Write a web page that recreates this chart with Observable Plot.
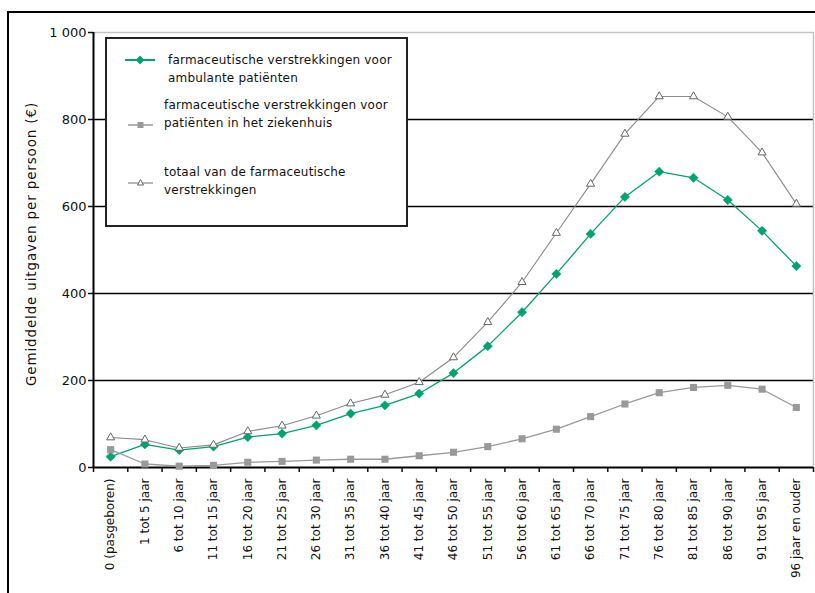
<!DOCTYPE html>
<html>
<head>
<meta charset="utf-8">
<script src="https://cdn.jsdelivr.net/npm/d3@7"></script>
<script src="https://cdn.jsdelivr.net/npm/@observablehq/plot@0.6"></script>
<style>
  html, body { margin: 0; padding: 0; background: #fff; }
  #wrap { position: relative; width: 815px; height: 593px; overflow: hidden; font-family: "DejaVu Sans", Verdana, sans-serif; }
  #frame { position: absolute; left: 7px; top: 11px; width: 900px; height: 700px; border-left: 2px solid #000; border-top: 2px solid #000; pointer-events: none; }
  #legend { position: absolute; left: 105px; top: 37px; width: 299px; height: 186px; border: 2px solid #222; background: #fff; }
  .lt { position: absolute; font-size: 12px; letter-spacing: 0.2px; line-height: 18px; color: #111; white-space: nowrap; }
  .lm { position: absolute; }
</style>
</head>
<body>
<div id="wrap">
  <div id="chart"></div>
  <div id="frame"></div>
  <div id="legend"></div>
</div>
<script>
const categories = [
  "0 (pasgeboren)", "1 tot 5 jaar", "6 tot 10 jaar", "11 tot 15 jaar", "16 tot 20 jaar",
  "21 tot 25 jaar", "26 tot 30 jaar", "31 tot 35 jaar", "36 tot 40 jaar", "41 tot 45 jaar",
  "46 tot 50 jaar", "51 tot 55 jaar", "56 tot 60 jaar", "61 tot 65 jaar", "66 tot 70 jaar",
  "71 tot 75 jaar", "76 tot 80 jaar", "81 tot 85 jaar", "86 tot 90 jaar", "91 tot 95 jaar",
  "96 jaar en ouder"
];
const ambulant = [25, 53, 40, 48, 70, 78, 97, 124, 143, 170, 217, 279, 357, 445, 537, 622, 680, 666, 615, 544, 463];
const hospital = [41, 8, 3, 5, 12, 14, 17, 19, 19, 27, 35, 48, 66, 88, 117, 146, 172, 184, 189, 180, 138];
const total = [69, 64, 45, 52, 83, 96, 119, 147, 167, 196, 253, 334, 426, 539, 652, 767, 853, 853, 806, 724, 606];
const seriesNames = [
  "farmaceutische verstrekkingen voor\nambulante patiënten",
  "farmaceutische verstrekkingen voor\npatiënten in het ziekenhuis",
  "totaal van de farmaceutische\nverstrekkingen"
];
const yTicks = [0, 200, 400, 600, 800, 1000];
const yTitle = "Gemiddelde uitgaven per persoon (€)";

const green = "#00a36c";
const grayLine = "#999999";
const totalLine = "#8a8a8a";

const idx = d3.range(categories.length);
const rows = (vals) => idx.map(i => ({i, v: vals[i]}));

const chart = Plot.plot({
  width: 815,
  height: 593,
  marginLeft: 93,
  marginRight: 2,
  marginTop: 32,
  marginBottom: 126,
  style: {fontFamily: "DejaVu Sans, Verdana, sans-serif", color: "#111", background: "transparent"},
  x: {type: "linear", domain: [-0.5, categories.length - 0.5]},
  y: {domain: [0, 1000]},
  marks: [
    Plot.ruleY([200, 400, 600, 800], {stroke: "#000", strokeWidth: 1.3}),
    Plot.ruleY([1000], {stroke: "#c4c4c4", strokeWidth: 1.5}),
    Plot.ruleX([categories.length - 0.5], {stroke: "#c4c4c4", strokeWidth: 1.5}),
    Plot.axisY({ticks: yTicks, tickFormat: d => d === 1000 ? "1 000" : String(d), tickSize: 5, tickPadding: 2, fontSize: 13, label: null, strokeWidth: 1.5}),
    Plot.axisX({ticks: idx.concat([categories.length]).map(i => i - 0.5), tickFormat: () => "", tickSize: 5, label: null, strokeWidth: 1.5}),
    Plot.axisX({ticks: idx, tickFormat: i => categories[i], tickSize: 0, tickPadding: 11, tickRotate: -90, fontSize: 12, label: null}),
    Plot.ruleX([-0.5], {stroke: "#000", strokeWidth: 2}),
    Plot.ruleY([0], {stroke: "#000", strokeWidth: 2}),
    Plot.text([yTitle], {frameAnchor: "left", textAnchor: "middle", dx: -62, dy: -6, rotate: -90, fontSize: 13.5, fill: "#111"}),
    Plot.line(rows(ambulant), {x: "i", y: "v", stroke: green, strokeWidth: 1.3}),
    Plot.dot(rows(ambulant), {x: "i", y: "v", symbol: "diamond2", r: 4.2, fill: green, stroke: green, strokeWidth: 0.5}),
    Plot.line(rows(hospital), {x: "i", y: "v", stroke: grayLine, strokeWidth: 1.3}),
    Plot.dot(rows(hospital), {x: "i", y: "v", symbol: "square", r: 4, fill: grayLine, stroke: "none"}),
    Plot.line(rows(total), {x: "i", y: "v", stroke: totalLine, strokeWidth: 1.1}),
    Plot.dot(rows(total), {x: "i", y: "v", symbol: "triangle", r: 3, fill: "#fff", stroke: "#666", strokeWidth: 1})
  ]
});
document.getElementById("chart").appendChild(chart);
// letter spacing for the y title
chart.querySelectorAll("text").forEach(t => {
  if (t.textContent === yTitle) t.style.letterSpacing = "0.85px";
});

// Legend
const legend = document.getElementById("legend");
const lx = 105, ly = 37;
const entries = [
  {name: seriesNames[0], mx: [125, 155], my: 60, tx: 168, ty: 51, draw: (g) => {
      g.innerHTML = `<line x1="0" y1="6" x2="30" y2="6" stroke="${green}" stroke-width="2"/><path d="M15,1.5 L19.5,6 L15,10.5 L10.5,6Z" fill="${green}"/>`;
  }},
  {name: seriesNames[1], mx: [128, 153], my: 125, tx: 164, ty: 96, draw: (g) => {
      g.innerHTML = `<line x1="0" y1="6" x2="25" y2="6" stroke="${grayLine}" stroke-width="1.5"/><rect x="9.5" y="3" width="6" height="6" fill="${grayLine}"/>`;
  }},
  {name: seriesNames[2], mx: [128, 153], my: 183, tx: 164, ty: 163, draw: (g) => {
      g.innerHTML = `<line x1="0" y1="6" x2="25" y2="6" stroke="${totalLine}" stroke-width="1.2"/><path d="M12.5,2.5 L15.5,8 L9.5,8Z" fill="#fff" stroke="#666" stroke-width="1"/>`;
  }}
];
for (const e of entries) {
  const svg = document.createElementNS("http://www.w3.org/2000/svg", "svg");
  svg.setAttribute("class", "lm");
  svg.setAttribute("width", e.mx[1] - e.mx[0]);
  svg.setAttribute("height", 12);
  svg.style.left = (e.mx[0] - lx - 2) + "px";
  svg.style.top = (e.my - 6 - ly - 2) + "px";
  e.draw(svg);
  legend.appendChild(svg);
  const t = document.createElement("div");
  t.className = "lt";
  t.style.left = (e.tx - lx - 2) + "px";
  t.style.top = (e.ty - ly - 2) + "px";
  t.innerHTML = e.name.split("\n").join("<br>");
  legend.appendChild(t);
}
</script>
</body>
</html>
